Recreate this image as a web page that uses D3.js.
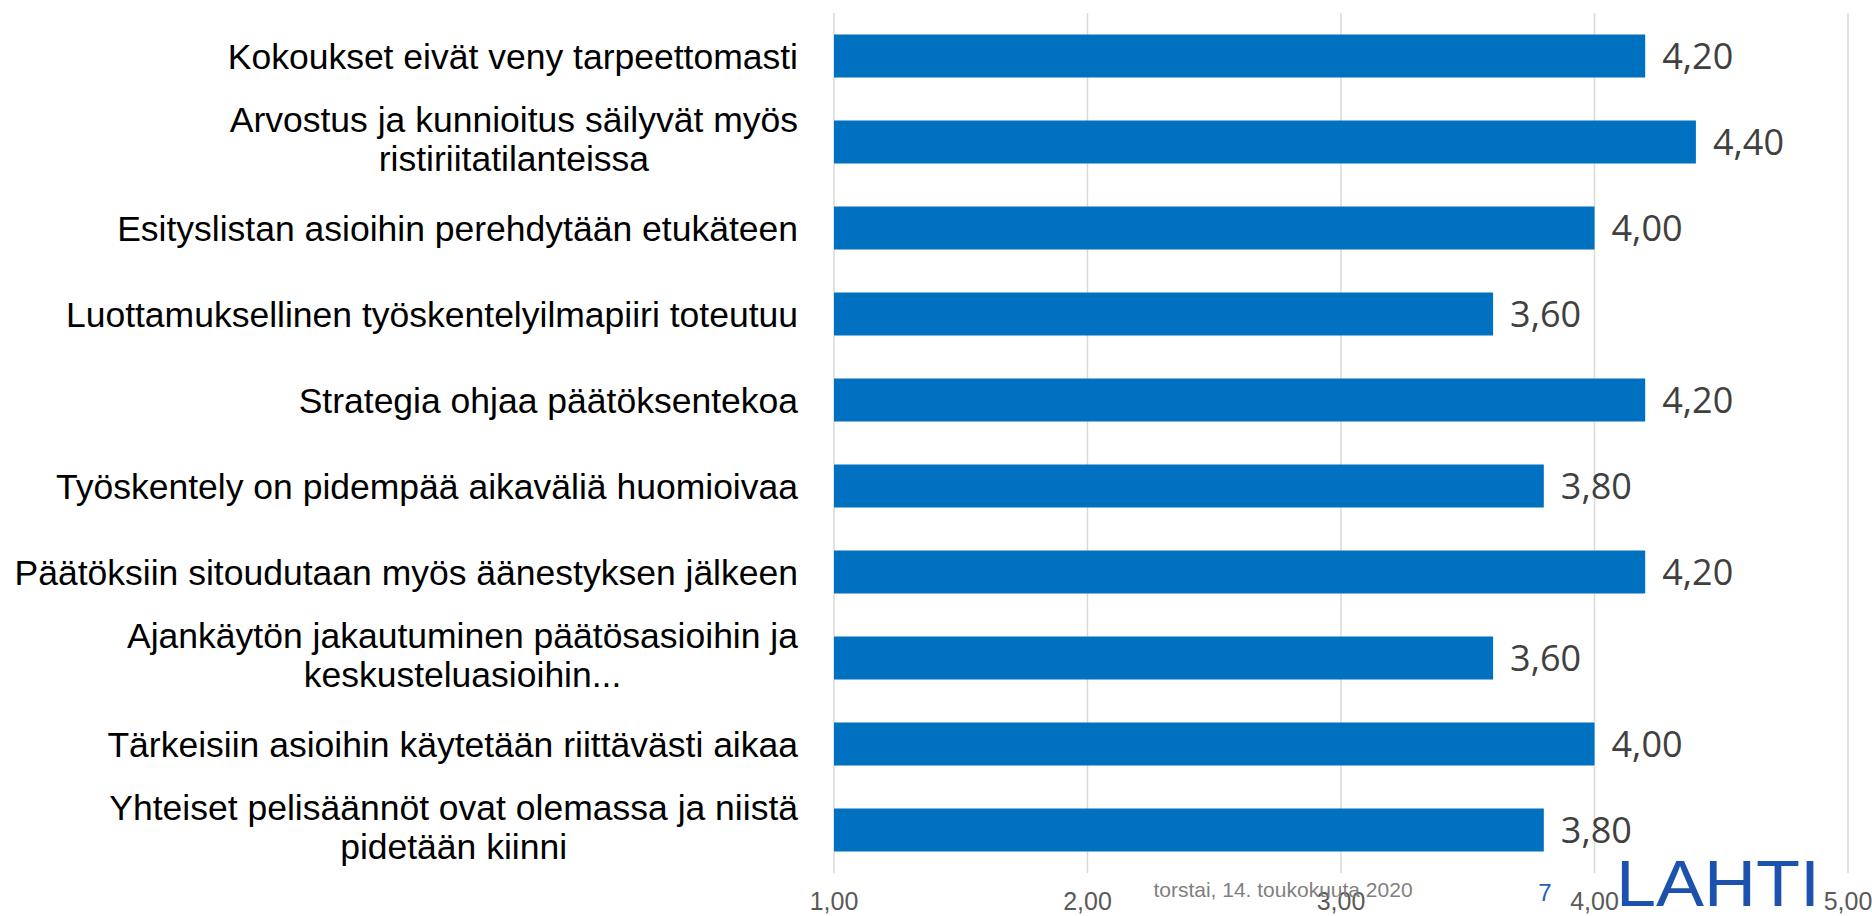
<!DOCTYPE html>
<html>
<head>
<meta charset="utf-8">
<script src="https://cdn.jsdelivr.net/npm/d3@7"></script>
<style>
    body { margin: 0; background: #fff; }
    svg { display: block; }
</style>
</head>
<body>
<div class="js-chart"></div>
<script>
'use strict';

//chart values, top to bottom
var categories = [
    'Kokoukset eivät veny tarpeettomasti',
    'Arvostus ja kunnioitus säilyvät myös\nristiriitatilanteissa',
    'Esityslistan asioihin perehdytään etukäteen',
    'Luottamuksellinen työskentelyilmapiiri toteutuu',
    'Strategia ohjaa päätöksentekoa',
    'Työskentely on pidempää aikaväliä huomioivaa',
    'Päätöksiin sitoudutaan myös äänestyksen jälkeen',
    'Ajankäytön jakautuminen päätösasioihin ja\nkeskusteluasioihin...',
    'Tärkeisiin asioihin käytetään riittävästi aikaa',
    'Yhteiset pelisäännöt ovat olemassa ja niistä\npidetään kiinni'
];
var values = [4.2, 4.4, 4.0, 3.6, 4.2, 3.8, 4.2, 3.6, 4.0, 3.8];
var tickValues = [1, 2, 3, 4, 5];
var footerDate = 'torstai, 14. toukokuuta 2020';
var pageNumber = '7';
var logoText = 'LAHTI';

var dim = { w: 1872, h: 916 };
var sans = '"Liberation Sans", Arial, sans-serif';
var fmt = function (v) { return v.toFixed(2).replace('.', ','); };

var svg = d3.select('.js-chart').append('svg')
    .attr('width', dim.w)
    .attr('height', dim.h);

var x = d3.scaleLinear().domain([1, 5]).range([834, 1848]);
var y = d3.scaleBand().domain(d3.range(categories.length)).range([13, 873]).paddingInner(0.5).paddingOuter(0.25);

//vertical gridlines
svg.append('g').selectAll('line').data(tickValues).enter().append('line')
    .attr('x1', function (d) { return x(d); })
    .attr('x2', function (d) { return x(d); })
    .attr('y1', 13)
    .attr('y2', 873)
    .style('stroke', '#d9d9d9')
    .style('stroke-width', 1.5);

//tick labels
svg.append('g').selectAll('text').data(tickValues).enter().append('text')
    .attr('x', function (d) { return x(d); })
    .attr('y', 910)
    .attr('text-anchor', 'middle')
    .style('font-family', sans)
    .style('font-size', '25px')
    .style('fill', '#595959')
    .text(fmt);

//bars
svg.append('g').selectAll('rect').data(values).enter().append('rect')
    .attr('x', x(1))
    .attr('y', function (d, i) { return y(i); })
    .attr('width', function (d) { return x(d) - x(1); })
    .attr('height', y.bandwidth())
    .style('fill', '#0070c0');

//value labels
svg.append('g').selectAll('text').data(values).enter().append('text')
    .attr('x', function (d) { return x(d) + 17; })
    .attr('y', function (d, i) { return y(i) + y.bandwidth() / 2; })
    .attr('dy', '0.36em')
    .style('font-family', '"Open Sans", sans-serif')
    .style('font-size', '36px')
    .style('fill', '#404040')
    .text(fmt);

//category labels, lines centred inside a right-aligned block
var lineH = 39;
var labels = svg.append('g').selectAll('text').data(categories).enter().append('text')
    .attr('text-anchor', 'middle')
    .style('font-family', sans)
    .style('font-size', '35.5px')
    .style('fill', '#000');

labels.each(function (d, i) {
    var el = d3.select(this);
    var lines = d.split('\n');
    var cy = y(i) + y.bandwidth() / 2 - (lines.length > 1 ? 3 : 0);
    var tspans = el.selectAll('tspan').data(lines).enter().append('tspan')
        .attr('y', function (l, k) { return cy + (k - (lines.length - 1) / 2) * lineH; })
        .attr('dy', '0.36em')
        .text(function (l) { return l; });
    var maxW = d3.max(tspans.nodes(), function (n) { return n.getComputedTextLength(); });
    tspans.attr('x', 798 - maxW / 2);
});

//footer
svg.append('text')
    .attr('x', 1283)
    .attr('y', 897)
    .attr('text-anchor', 'middle')
    .style('font-family', sans)
    .style('font-size', '21px')
    .style('fill', '#7f7f7f')
    .text(footerDate);

svg.append('text')
    .attr('x', 1545)
    .attr('y', 901)
    .attr('text-anchor', 'middle')
    .style('font-family', sans)
    .style('font-size', '24px')
    .style('fill', '#1f5fbf')
    .text(pageNumber);

//logo
svg.append('text')
    .attr('x', 1616)
    .attr('y', 906)
    .attr('textLength', 204)
    .attr('lengthAdjust', 'spacingAndGlyphs')
    .style('font-family', sans)
    .style('font-size', '64px')
    .style('fill', '#1a52ad')
    .text(logoText);
</script>
</body>
</html>
